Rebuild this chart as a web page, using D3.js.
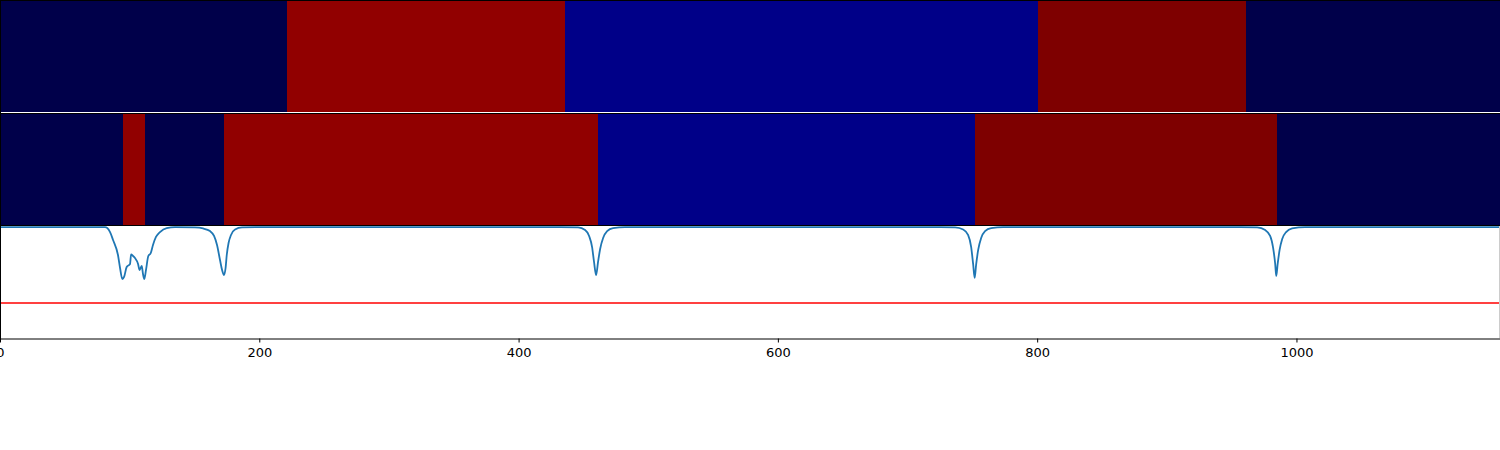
<!DOCTYPE html>
<html>
<head>
<meta charset="utf-8">
<script src="https://cdn.jsdelivr.net/npm/d3@7"></script>
<style>
  html, body { margin: 0; padding: 0; background: #ffffff; }
  svg { display: block; }
</style>
</head>
<body>
<svg id="chart" width="1500" height="450"></svg>
<script>
// ---- data ----
const xMax = 1157;
const tickValues = [0, 200, 400, 600, 800, 1000];

// top strip: segment boundaries and their colour classes
const topStarts  = [0, 221.4, 435.8, 800.6, 961.0];
const topEnds    = [221.4, 435.8, 800.6, 961.0, 1157];
const topClass   = ["dark", "red", "blue", "maroon", "dark"];

// middle strip
const midStarts  = [0, 94.9, 111.8, 172.8, 461.2, 752.0, 985.0];
const midEnds    = [94.9, 111.8, 172.8, 461.2, 752.0, 985.0, 1157];
const midClass   = ["dark", "red", "dark", "red", "blue", "maroon", "dark"];

// bottom: signal line
const lineX = [0, 65.6, 81.0, 84.9, 87.2, 91.0, 92.6, 94.3, 95.7, 97.7, 100.3, 101.1, 102.6, 104.1, 106.5, 107.6, 109.3, 110.3, 111.3, 112.6, 114.4, 116.3, 118.0, 120.3, 123.4, 128.6, 135.0,
  150.4, 156.6, 162.0, 165.1, 167.4, 169.7, 171.3, 172.8, 174.0, 174.9, 176.3, 178.2, 181.3, 186.7, 200.6,
  432.0, 445.9, 451.3, 454.4, 456.7, 458.2, 459.8, 461.3, 462.9, 465.2, 468.3, 472.9, 482.1,
  725.1, 736.7, 742.9, 746.7, 749.1, 750.6, 751.8, 752.9, 754.5, 756.8, 759.8, 764.5, 773.8,
  956.6, 969.7, 975.9, 979.7, 982.0, 983.6, 984.4, 985.5, 987.0, 989.0, 992.0, 996.7, 1006.7, 1157];
const lineY = [0.99, 0.99, 0.99, 0.946, 0.875, 0.741, 0.625, 0.527, 0.545, 0.634, 0.661, 0.746, 0.732, 0.714, 0.661, 0.607, 0.643, 0.571, 0.527, 0.607, 0.732, 0.759, 0.830, 0.902, 0.946, 0.982, 0.99,
  0.987, 0.978, 0.955, 0.911, 0.830, 0.696, 0.607, 0.562, 0.625, 0.741, 0.848, 0.920, 0.969, 0.987, 0.99,
  0.99, 0.987, 0.964, 0.911, 0.812, 0.679, 0.562, 0.679, 0.795, 0.893, 0.955, 0.982, 0.99,
  0.99, 0.987, 0.969, 0.920, 0.812, 0.661, 0.536, 0.652, 0.786, 0.893, 0.955, 0.982, 0.99,
  0.99, 0.987, 0.964, 0.911, 0.804, 0.661, 0.554, 0.661, 0.786, 0.884, 0.946, 0.978, 0.99, 0.99];
const threshold = 0.3125;

// ---- drawing ----
const colors = { dark: "#00004a", red: "#910000", blue: "#000088", maroon: "#7e0000" };
const svg = d3.select("#chart");
const x = d3.scaleLinear().domain([0, xMax]).range([0, 1500]);

function strip(starts, ends, cls, y0, y1) {
  const data = starts.map((s, i) => ({ s, e: ends[i], c: cls[i] }));
  svg.append("g").selectAll("rect").data(data).join("rect")
    .attr("x", d => x(d.s))
    .attr("width", d => x(d.e) - x(d.s))
    .attr("y", y0).attr("height", y1 - y0)
    .attr("fill", d => colors[d.c])
    .attr("shape-rendering", "crispEdges");
}
strip(topStarts, topEnds, topClass, 0, 112);
strip(midStarts, midEnds, midClass, 113, 225.5);

// bottom panel
const y = d3.scaleLinear().domain([0, 1]).range([338, 226]);
const pts = lineX.map((v, i) => [v, lineY[i]]);
svg.append("line")
  .attr("x1", x(0)).attr("x2", x(xMax))
  .attr("y1", y(threshold)).attr("y2", y(threshold))
  .attr("stroke", "#ff0000").attr("stroke-width", 1.6);
svg.append("path")
  .datum(pts)
  .attr("d", d3.line().x(d => x(d[0])).y(d => y(d[1])).curve(d3.curveMonotoneX))
  .attr("fill", "none").attr("stroke", "#1f77b4").attr("stroke-width", 1.8);

// spines
const sp = svg.append("g").attr("stroke", "#000").attr("stroke-width", 1).attr("shape-rendering", "crispEdges");
sp.append("line").attr("x1", 0).attr("x2", 1500).attr("y1", 0.5).attr("y2", 0.5);
sp.append("line").attr("x1", 0).attr("x2", 1500).attr("y1", 113.5).attr("y2", 113.5);
sp.append("line").attr("x1", 0).attr("x2", 1500).attr("y1", 225.5).attr("y2", 225.5);
sp.append("line").attr("x1", 0.5).attr("x2", 0.5).attr("y1", 0).attr("y2", 338.5);
sp.append("line").attr("x1", 1499.5).attr("x2", 1499.5).attr("y1", 226).attr("y2", 338).attr("stroke", "#cccccc");

// x axis
const axis = d3.axisBottom(x).tickValues(tickValues).tickFormat(d3.format("d"))
  .tickSize(4).tickPadding(5).tickSizeOuter(0);
const ag = svg.append("g").attr("transform", "translate(0,338.5)").call(axis);
ag.select(".domain").attr("stroke", "#000");
ag.selectAll(".tick line").attr("stroke", "#000");
ag.selectAll("text").attr("fill", "#000")
  .style("font-family", "'DejaVu Sans', sans-serif").style("font-size", "13px");
</script>
</body>
</html>
